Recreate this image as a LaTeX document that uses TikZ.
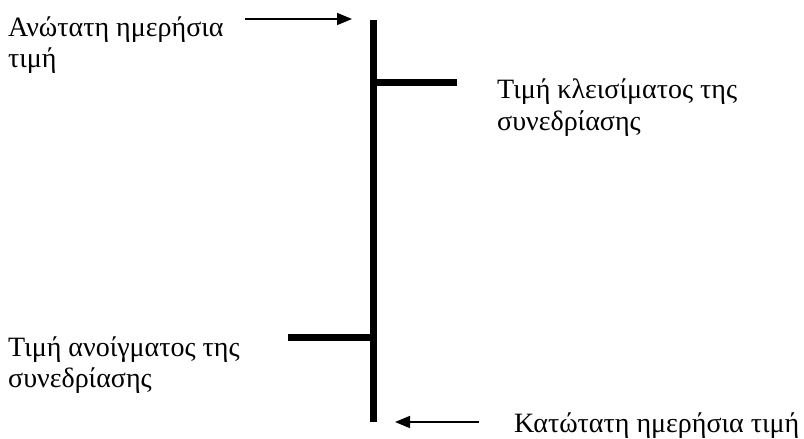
\documentclass[tikz,border=0pt]{standalone}
\usepackage{fontspec}
\setmainfont{Liberation Serif}
\usetikzlibrary{arrows.meta}
\begin{document}
\begin{tikzpicture}[x=1pt,y=-1pt,
  lbl/.style={anchor=base west,inner sep=0pt,font=\fontsize{28}{31}\selectfont},
  bar/.style={line width=7pt,line cap=butt},
  pointer/.style={line width=1.6pt,-{Triangle[length=15pt,width=12pt]}}]
\useasboundingbox (0,0) rectangle (804,439);
% text labels
\node[lbl] (hi1) at (8,36) {Ανώτατη ημερήσια};
\node[lbl] (hi2) at (8,67) {τιμή};
\node[lbl] (cl1) at (497,98) {Τιμή κλεισίματος της};
\node[lbl] (cl2) at (497,130) {συνεδρίασης};
\node[lbl] (op1) at (8,356) {Τιμή ανοίγματος της};
\node[lbl] (op2) at (8,387) {συνεδρίασης};
\node[lbl] (lo) at (514,432) {Κατώτατη ημερήσια τιμή};
% candlestick geometry
\coordinate (top) at (373,20);
\coordinate (bot) at (373,422);
\coordinate (closeL) at (373,82);
\coordinate (closeR) at (457,82);
\coordinate (openL) at (288,337.5);
\coordinate (openR) at (373,337.5);
\draw[bar] (top) -- (bot);
\draw[bar] (closeL) -- (closeR);
\draw[bar] (openL) -- (openR);
% pointers
\coordinate (hiTail) at (245,19);
\coordinate (hiTip) at (352,19);
\coordinate (loTail) at (479,422);
\coordinate (loTip) at (395,422);
\draw[pointer] (hiTail) -- (hiTip);
\draw[pointer] (loTail) -- (loTip);
\end{tikzpicture}
\end{document}
